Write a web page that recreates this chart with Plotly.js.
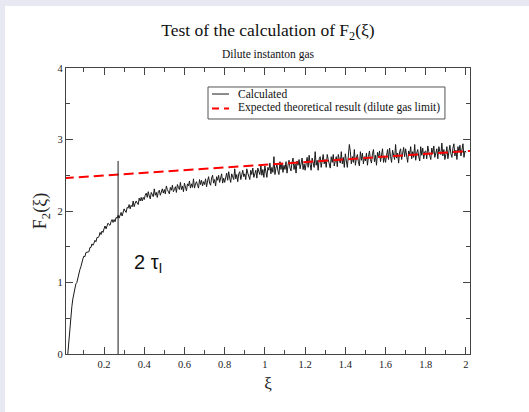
<!DOCTYPE html>
<html><head><meta charset="utf-8">
<script src="https://cdn.plot.ly/plotly-3.0.1.min.js"></script>
<style>
html,body{margin:0;padding:0;background:#e8e8f3;width:529px;height:412px;overflow:hidden}
#plot{position:absolute;left:5px;top:6px;width:524px;height:406px;background:#fff}
</style></head><body><div id="plot"></div>
<script>
// Calculated F2(xi), sampled from xi = 0.02 with step 0.005
const xiStart = 0.02, xiStep = 0.005;
const calculated = [
0, 0.2, 0.38, 0.53, 0.66, 0.77, 0.86, 0.93, 0.98, 1.0, 1.07, 1.13, 1.18, 1.22, 1.29, 1.33,
1.37, 1.36, 1.42, 1.42, 1.43, 1.43, 1.49, 1.49, 1.54, 1.52, 1.55, 1.59, 1.57, 1.63, 1.63, 1.64, 1.70, 1.67, 1.72, 1.70,
1.75, 1.79, 1.75, 1.80, 1.83, 1.81, 1.80, 1.85, 1.88, 1.84, 1.88, 1.85, 1.91, 1.90, 1.94, 1.90, 1.95, 1.98, 1.93, 1.97,
2.03, 2.00, 1.98, 2.05, 2.04, 2.09, 2.03, 2.08, 2.06, 2.14, 2.06, 2.11, 2.14, 2.11, 2.09, 2.18, 2.14, 2.19, 2.14, 2.19,
2.16, 2.22, 2.25, 2.19, 2.27, 2.21, 2.17, 2.26, 2.23, 2.20, 2.31, 2.22, 2.26, 2.19, 2.27, 2.29, 2.22, 2.26, 2.31, 2.25,
2.30, 2.24, 2.35, 2.30, 2.26, 2.24, 2.33, 2.29, 2.36, 2.27, 2.30, 2.34, 2.26, 2.37, 2.33, 2.30, 2.40, 2.30, 2.35, 2.27,
2.39, 2.33, 2.28, 2.38, 2.35, 2.42, 2.32, 2.38, 2.33, 2.45, 2.32, 2.38, 2.41, 2.36, 2.32, 2.44, 2.37, 2.43, 2.35, 2.41,
2.37, 2.45, 2.34, 2.42, 2.48, 2.39, 2.36, 2.46, 2.50, 2.39, 2.44, 2.35, 2.48, 2.43, 2.50, 2.40, 2.48, 2.52, 2.39, 2.46,
2.40, 2.49, 2.53, 2.43, 2.55, 2.46, 2.40, 2.52, 2.48, 2.44, 2.59, 2.45, 2.51, 2.41, 2.52, 2.55, 2.44, 2.49, 2.57, 2.48,
2.52, 2.44, 2.59, 2.53, 2.47, 2.44, 2.57, 2.51, 2.60, 2.47, 2.52, 2.57, 2.46, 2.60, 2.55, 2.51, 2.64, 2.50, 2.58, 2.47,
2.63, 2.55, 2.47, 2.61, 2.57, 2.67, 2.52, 2.61, 2.54, 2.76, 2.51, 2.60, 2.65, 2.56, 2.51, 2.69, 2.58, 2.67, 2.54, 2.64,
2.58, 2.69, 2.53, 2.64, 2.71, 2.60, 2.56, 2.68, 2.74, 2.58, 2.66, 2.53, 2.70, 2.64, 2.72, 2.59, 2.69, 2.74, 2.58, 2.66,
2.57, 2.70, 2.75, 2.61, 2.78, 2.65, 2.57, 2.74, 2.68, 2.61, 2.83, 2.64, 2.71, 2.57, 2.73, 2.76, 2.61, 2.69, 2.79, 2.66,
2.72, 2.61, 2.79, 2.72, 2.65, 2.60, 2.76, 2.68, 2.79, 2.63, 2.70, 2.76, 2.62, 2.79, 2.72, 2.67, 2.83, 2.66, 2.75, 2.61,
2.80, 2.70, 2.61, 2.77, 2.93, 2.83, 2.66, 2.76, 2.68, 2.86, 2.64, 2.74, 2.79, 2.69, 2.63, 2.83, 2.71, 2.81, 2.66, 2.76,
2.70, 2.81, 2.64, 2.76, 2.84, 2.72, 2.67, 2.80, 2.86, 2.69, 2.78, 2.64, 2.82, 2.75, 2.84, 2.69, 2.80, 2.87, 2.68, 2.77,
2.68, 2.81, 2.86, 2.72, 2.88, 2.76, 2.68, 2.85, 2.79, 2.72, 2.93, 2.74, 2.81, 2.67, 2.83, 2.87, 2.72, 2.79, 2.89, 2.76,
2.87, 2.77, 2.68, 2.84, 2.79, 2.90, 2.73, 2.83, 2.75, 2.93, 2.71, 2.81, 2.86, 2.76, 2.70, 2.90, 2.78, 2.88, 2.73, 2.83,
2.84, 2.73, 2.91, 2.83, 2.76, 2.72, 2.88, 2.80, 2.91, 2.75, 2.81, 2.87, 2.73, 2.90, 2.83, 2.79, 2.95, 2.77, 2.86, 2.72,
2.79, 2.90, 2.73, 2.84, 2.92, 2.80, 2.75, 2.88, 2.94, 2.77, 2.85, 2.72, 2.90, 2.83, 2.92, 2.77, 2.88, 2.94, 2.75, 2.84, 2.82
];
const calcX = calculated.map((_, i) => +(xiStart + i * xiStep).toFixed(4));

// Expected theoretical result (dilute gas limit): straight line
const expectedX = [0.0, 2.02];
const expectedY = [2.458, 2.84];

// Marker for 2*tau_I
const tauX = [0.27, 0.27];
const tauY = [0, 2.7];

const xTicks = [0.2, 0.4, 0.6, 0.8, 1, 1.2, 1.4, 1.6, 1.8, 2];
const xTickText = ['0.2', '0.4', '0.6', '0.8', '1', '1.2', '1.4', '1.6', '1.8', '2'];
const yTicks = [0, 1, 2, 3, 4];
const legendNames = ['Calculated', 'Expected theoretical result (dilute gas limit)'];

const serif = 'Liberation Serif, Times New Roman, serif';

const traces = [
  {x: calcX, y: calculated, type: 'scatter', mode: 'lines', name: legendNames[0],
   line: {color: '#1a1a1a', width: 1}, showlegend: false},
  {x: expectedX, y: expectedY, type: 'scatter', mode: 'lines', name: legendNames[1],
   line: {color: '#ff0000', width: 2, dash: '10px,5px'}, showlegend: false},
  {x: tauX, y: tauY, type: 'scatter', mode: 'lines', showlegend: false,
   line: {color: '#1a1a1a', width: 1}}
];

const axisCommon = {
  showgrid: false, zeroline: false, showline: true, linecolor: '#444', linewidth: 1.2,
  mirror: 'ticks', ticks: 'inside', ticklen: 7, tickwidth: 1, tickcolor: '#444',
  tickfont: {family: serif, size: 10.5, color: '#222'}
};

// hand-built compact legend (box, sample lines, labels)
const lg = {x0: 0.3515, x1: 0.938, y0: 0.8217, y1: 0.9336, rows: [0.909, 0.862], sx0: 0.3614, sx1: 0.4035, tx: 0.4233};

const layout = {
  width: 524, height: 406,
  margin: {l: 61, r: 59, t: 62, b: 58},
  paper_bgcolor: '#ffffff', plot_bgcolor: '#ffffff',
  showlegend: false,
  title: {text: 'Test of the calculation of F<sub>2</sub>(ξ)', font: {family: serif, size: 17.5, color: '#111'},
          x: 0.5, xanchor: 'center', xref: 'paper', y: 0.94, yanchor: 'middle', yref: 'container'},
  xaxis: Object.assign({}, axisCommon, {
    range: [0.011, 2.02], tickmode: 'array', tickvals: xTicks, ticktext: xTickText,
    minor: {dtick: 0.1, tick0: 0, ticks: 'inside', ticklen: 4, tickcolor: '#444'},
    title: {text: 'ξ', font: {family: serif, size: 17, color: '#222'}, standoff: 8}
  }),
  yaxis: Object.assign({}, axisCommon, {
    range: [0, 4], tickmode: 'array', tickvals: yTicks,
    minor: {dtick: 0.5, tick0: 0, ticks: 'inside', ticklen: 4, tickcolor: '#444'},
    title: {text: 'F<sub>2</sub>(ξ)', font: {family: serif, size: 18, color: '#222'}, standoff: 6}
  }),
  shapes: [
    {type: 'rect', xref: 'paper', yref: 'paper', x0: lg.x0, x1: lg.x1, y0: lg.y0, y1: lg.y1,
     line: {color: '#555', width: 1}, fillcolor: '#ffffff', layer: 'above'},
    {type: 'line', xref: 'paper', yref: 'paper', x0: lg.sx0, x1: lg.sx1, y0: lg.rows[0], y1: lg.rows[0],
     line: {color: '#1a1a1a', width: 1}, layer: 'above'},
    {type: 'line', xref: 'paper', yref: 'paper', x0: lg.sx0, x1: lg.sx1, y0: lg.rows[1] - 0.004, y1: lg.rows[1] - 0.004,
     line: {color: '#ff0000', width: 2, dash: '7px,5px'}, layer: 'above'}
  ],
  annotations: [
    {text: 'Dilute instanton gas', xref: 'paper', yref: 'paper', x: 0.5, y: 1.0, yshift: 14,
     showarrow: false, font: {family: serif, size: 11.5, color: '#111'}, xanchor: 'center', yanchor: 'middle'},
    {text: '2 τ<sub>I</sub>', xref: 'x', yref: 'y', x: 0.42, y: 1.27, showarrow: false,
     font: {family: 'Liberation Sans, Arial, sans-serif', size: 20, color: '#111'}},
    {text: legendNames[0], xref: 'paper', yref: 'paper', x: lg.tx, y: lg.rows[0], xanchor: 'left', yanchor: 'middle',
     showarrow: false, borderpad: 0, font: {family: serif, size: 11.5, color: '#111'}},
    {text: legendNames[1], xref: 'paper', yref: 'paper', x: lg.tx, y: lg.rows[1], xanchor: 'left', yanchor: 'middle',
     showarrow: false, borderpad: 0, font: {family: serif, size: 11.5, color: '#111'}}
  ]
};

Plotly.newPlot('plot', traces, layout, {displayModeBar: false, staticPlot: true});
</script></body></html>
